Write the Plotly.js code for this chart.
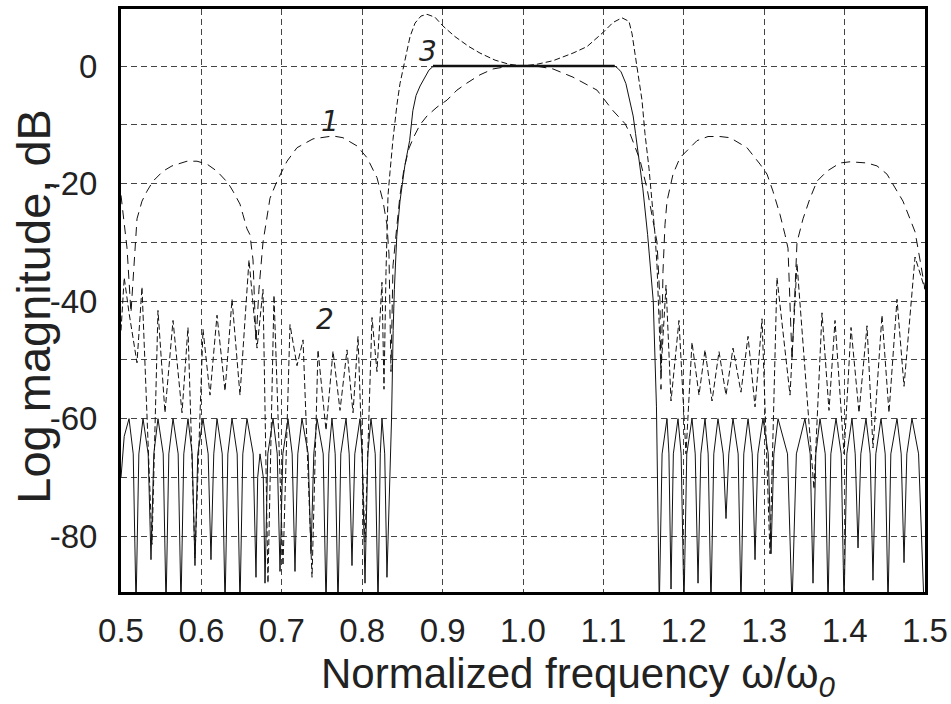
<!DOCTYPE html>
<html>
<head>
<meta charset="utf-8">
<script src="https://cdn.plot.ly/plotly-3.0.1.min.js"></script>
<style>
  html, body { margin: 0; padding: 0; background: #fff; }
  #chart { width: 951px; height: 704px; }
</style>
</head>
<body>
<div id="chart"></div>
<script>
// ---- Curve 3 (solid): shaped filter response ----
const curve3X = [
  0.5000, 0.5040, 0.5100, 0.5152, 0.5187, 0.5222, 0.5274, 0.5338, 0.5373, 0.5408,
  0.5460, 0.5525, 0.5560, 0.5595, 0.5647, 0.5711, 0.5746, 0.5781, 0.5833, 0.5885,
  0.5920, 0.5955, 0.6020, 0.6084, 0.6119, 0.6154, 0.6194, 0.6259, 0.6294, 0.6329,
  0.6381, 0.6445, 0.6480, 0.6515, 0.6567, 0.6644, 0.6679, 0.6700, 0.6729, 0.6770,
  0.6791, 0.6826, 0.6891, 0.6943, 0.6978, 0.7013, 0.7077, 0.7129, 0.7164, 0.7199,
  0.7251, 0.7328, 0.7363, 0.7398, 0.7438, 0.7515, 0.7550, 0.7585, 0.7624, 0.7664,
  0.7699, 0.7734, 0.7799, 0.7838, 0.7873, 0.7908, 0.7973, 0.8000, 0.8035, 0.8070,
  0.8109, 0.8162, 0.8197, 0.8225, 0.8246, 0.8280, 0.8308, 0.8335, 0.8365, 0.8385,
  0.8400, 0.8430, 0.8470, 0.8530, 0.8590, 0.8630, 0.8670, 0.8720, 0.8780, 0.8830,
  0.8880, 0.9000, 1.0000, 1.1000, 1.1140, 1.1180, 1.1220, 1.1280, 1.1320, 1.1370,
  1.1400, 1.1440, 1.1490, 1.1550, 1.1590, 1.1620, 1.1660, 1.1680, 1.1695, 1.1730,
  1.1791, 1.1815, 1.1841, 1.1870, 1.1928, 1.1967, 1.2002, 1.2037, 1.2102, 1.2142,
  1.2177, 1.2212, 1.2264, 1.2303, 1.2338, 1.2373, 1.2425, 1.2490, 1.2525, 1.2560,
  1.2612, 1.2676, 1.2711, 1.2746, 1.2799, 1.2851, 1.2886, 1.2921, 1.2985, 1.3050,
  1.3085, 1.3120, 1.3172, 1.3290, 1.3346, 1.3400, 1.3507, 1.3572, 1.3607, 1.3642,
  1.3694, 1.3759, 1.3794, 1.3829, 1.3893, 1.3958, 1.3993, 1.4028, 1.4092, 1.4132,
  1.4167, 1.4202, 1.4266, 1.4318, 1.4353, 1.4388, 1.4453, 1.4505, 1.4540, 1.4575,
  1.4652, 1.4704, 1.4739, 1.4774, 1.4838, 1.4920, 1.4988
];
const curve3Y = [
  -70, -63, -60, -66, -92, -66, -60, -66, -84, -66,
  -60, -66, -92, -66, -60, -66, -92, -66, -60, -66,
  -85, -66, -60, -66, -84, -66, -60, -66, -92, -66,
  -60, -66, -92, -66, -60, -66, -87, -70, -66, -70,
  -88, -66, -60, -66, -86, -66, -60, -66, -86, -66,
  -60, -66, -83, -66, -60, -66, -92, -66, -60, -66,
  -92, -66, -60, -66, -85, -66, -60, -66, -88, -66,
  -60, -66, -92, -66, -60, -66, -87, -75, -60, -45,
  -38, -29, -23, -17, -12.7, -7.6, -5, -3.4, -1.8, -0.7,
  -0.1, 0, 0.1, 0, 0, -0.4, -1, -3, -5.3, -8.5,
  -11.5, -16, -20.8, -28.7, -35, -40, -58, -80, -92, -66,
  -60, -66, -89, -66, -60, -66, -92, -66, -60, -66,
  -88, -66, -60, -66, -92, -66, -60, -66, -77, -66,
  -60, -66, -92, -66, -60, -66, -84, -66, -60, -66,
  -83, -66, -60, -66, -92, -66, -60, -66, -88, -66,
  -60, -66, -92, -66, -60, -66, -92, -66, -60, -66,
  -82, -66, -60, -66, -87.5, -66, -60, -66, -92, -66,
  -60, -66, -84.5, -66, -60, -66, -92
];
// passband of curve 3 (drawn bold in the original)
const passbandX = [0.888, 0.950, 1.000, 1.050, 1.114];
const passbandY = [0, 0, 0.1, 0, 0];

// ---- Curve 1 (long dashes): unshaped (sinc-like) response ----
const curve1X = [
  0.5000, 0.5025, 0.5075, 0.5124, 0.5174, 0.5199, 0.5261, 0.5323, 0.5398, 0.5522,
  0.5634, 0.5821, 0.5945, 0.6070, 0.6194, 0.6331, 0.6393, 0.6480, 0.6517, 0.6567,
  0.6604, 0.6642, 0.6679, 0.6716, 0.6766, 0.6816, 0.6853, 0.6940, 0.7065, 0.7189,
  0.7388, 0.7637, 0.7761, 0.7935, 0.8060, 0.8184, 0.8259, 0.8308, 0.8333, 0.8358,
  0.8383, 0.8433, 0.8470, 0.8520, 0.8582, 0.8644, 0.8719, 0.8806, 0.8930, 0.9055,
  0.9179, 0.9303, 0.9465, 0.9627, 0.9801, 1.0000, 1.0199, 1.0373, 1.0622, 1.0771,
  1.0920, 1.1119, 1.1269, 1.1331, 1.1455, 1.1542, 1.1617, 1.1667, 1.1704, 1.1716,
  1.1741, 1.1766, 1.1791, 1.1866, 1.1953, 1.2040, 1.2164, 1.2301, 1.2450, 1.2575,
  1.2786, 1.2948, 1.3035, 1.3109, 1.3197, 1.3259, 1.3296, 1.3346, 1.3408, 1.3483,
  1.3570, 1.3657, 1.3781, 1.3943, 1.4067, 1.4279, 1.4403, 1.4527, 1.4602, 1.4726,
  1.4813, 1.4876, 1.4938, 1.5000
];
const curve1Y = [
  -22, -24.7, -31, -42, -30, -26, -23, -21.3, -19.6, -17.9,
  -17, -16.2, -16.2, -16.7, -17.9, -19.9, -21.3, -23.5, -25.3, -27.7,
  -28.7, -33, -47, -38, -30, -26, -22.5, -19.6, -16.2, -13.9,
  -12.4, -11.9, -12.2, -13.6, -15.6, -19, -23, -27, -32, -52,
  -34, -27, -22, -17.5, -14, -12, -10, -8.5, -7, -5.8,
  -4.1, -2.9, -1.5, -0.5, -0.1, 0, -0.1, -0.5, -1.9, -3,
  -4.1, -7.6, -9.8, -11.5, -16, -20.8, -26, -30, -40, -55,
  -35, -27, -23, -18.4, -15.6, -14.4, -12.7, -12, -12, -12.2,
  -13.9, -16.7, -18.4, -21.3, -25.3, -28.7, -31, -50, -30, -26,
  -22.5, -19.6, -17.9, -16.5, -16.3, -16.5, -17, -18.4, -20.1, -23,
  -26, -28.2, -33, -38
];

// ---- Curve 2 (short dashes): overshooting response ----
const curve2X = [
  0.5000, 0.5040, 0.5100, 0.5199, 0.5261, 0.5386, 0.5460, 0.5547, 0.5647, 0.5759,
  0.5833, 0.5920, 0.6020, 0.6107, 0.6194, 0.6294, 0.6381, 0.6480, 0.6592, 0.6692,
  0.6766, 0.6828, 0.6903, 0.7015, 0.7102, 0.7189, 0.7264, 0.7376, 0.7450, 0.7550,
  0.7637, 0.7724, 0.7811, 0.7886, 0.7948, 0.8035, 0.8122, 0.8184, 0.8246, 0.8271,
  0.8296, 0.8321, 0.8346, 0.8383, 0.8433, 0.8470, 0.8532, 0.8595, 0.8657, 0.8731,
  0.8806, 0.8905, 0.9005, 0.9154, 0.9328, 0.9465, 0.9652, 0.9826, 1.0000, 1.0174,
  1.0373, 1.0622, 1.0796, 1.0995, 1.1119, 1.1231, 1.1318, 1.1356, 1.1418, 1.1480,
  1.1517, 1.1567, 1.1604, 1.1642, 1.1667, 1.1716, 1.1779, 1.1841, 1.1940, 1.2027,
  1.2102, 1.2189, 1.2264, 1.2351, 1.2438, 1.2525, 1.2612, 1.2711, 1.2799, 1.2886,
  1.2973, 1.3072, 1.3159, 1.3321, 1.3408, 1.3619, 1.3719, 1.3806, 1.3881, 1.3993,
  1.4080, 1.4179, 1.4279, 1.4353, 1.4465, 1.4552, 1.4652, 1.4739, 1.4876, 1.5000
];
const curve2Y = [
  -45, -36, -42, -50.5, -37.6, -81.4, -41.6, -59, -43.3, -59,
  -44.5, -83.7, -44.8, -56, -42.4, -55.3, -39.7, -56, -33, -48,
  -38, -88, -39, -85, -44, -51, -46.6, -87, -48.3, -62,
  -48.5, -58.6, -48.3, -59, -46, -81, -42.8, -52, -36.8, -55,
  -35, -22, -18, -12.5, -6.5, -3, 1, 5, 7.3, 8.5,
  8.8, 8.3, 6.8, 5, 3.3, 2.2, 1, 0.3, 0, 0.3,
  0.9, 2.2, 3.3, 5.7, 7.4, 8.2, 7.6, 5.5, -0.2, -5.8,
  -11.5, -17.4, -23, -28.7, -34, -52, -37.3, -57, -43.3, -66,
  -47, -56, -48.3, -57, -48.6, -56, -48, -55.5, -46, -58,
  -43, -83, -36, -56, -33.6, -72, -42, -58.6, -43.3, -66,
  -44.5, -59, -44.2, -65, -42.4, -59, -39.7, -54.5, -32.5, -38
];

// ---- axis ticks and curve labels ----
const xTickVals = [0.5, 0.6, 0.7, 0.8, 0.9, 1.0, 1.1, 1.2, 1.3, 1.4, 1.5];
const xTickText = ['0.5', '0.6', '0.7', '0.8', '0.9', '1.0', '1.1', '1.2', '1.3', '1.4', '1.5'];
const yTickVals = [-80, -60, -40, -20, 0];
const yTickText = ['-80', '-60', '-40', '-20', '0'];
const yMinorVals = [-90, -70, -50, -30, -10];
const labelText = ['1', '2', '3'];
const labelX = [0.760, 0.754, 0.882];
const labelY = [-9.5, -43.2, 2.4];

const traces = [
  { x: curve1X, y: curve1Y, mode: 'lines', line: { color: '#111', width: 1, dash: '9px,6px' }, hoverinfo: 'skip' },
  { x: curve2X, y: curve2Y, mode: 'lines', line: { color: '#111', width: 1, dash: '6px,3px' }, hoverinfo: 'skip' },
  { x: curve3X, y: curve3Y, mode: 'lines', line: { color: '#111', width: 1 }, hoverinfo: 'skip' },
  { x: passbandX, y: passbandY, mode: 'lines', line: { color: '#111', width: 2.5 }, hoverinfo: 'skip' }
];

const tickFont = { family: 'Liberation Sans, Arial, sans-serif', size: 33, color: '#222' };
const gridStyle = { gridcolor: '#444', gridwidth: 1, griddash: '6px,4px' };

const annotations = labelText.map((t, i) => ({
  x: labelX[i], y: labelY[i], xref: 'x', yref: 'y', text: '<i>' + t + '</i>',
  showarrow: false, font: { family: 'DejaVu Sans, sans-serif', size: 28, color: '#222' }
}));
annotations.push({
  x: 0.568, y: -0.145, xref: 'paper', yref: 'paper', xanchor: 'center', yanchor: 'middle',
  text: 'Normalized frequency \u03c9/\u03c9<sub><i>0</i></sub>', showarrow: false,
  font: { family: 'Liberation Sans, Arial, sans-serif', size: 42, color: '#222' }
});
annotations.push({
  x: -0.109, y: 0.49, xref: 'paper', yref: 'paper', xanchor: 'center', yanchor: 'middle',
  text: 'Log magnitude, dB', textangle: -90, showarrow: false,
  font: { family: 'Liberation Sans, Arial, sans-serif', size: 47, color: '#222' }
});

const layout = {
  width: 951, height: 704,
  margin: { l: 121, r: 26, t: 9, b: 112 },
  paper_bgcolor: '#fff', plot_bgcolor: '#fff',
  showlegend: false,
  xaxis: Object.assign({
    range: [0.5, 1.5], tickvals: xTickVals, ticktext: xTickText,
    showgrid: true,
    zeroline: false, showline: true, linecolor: '#000', linewidth: 3, mirror: true,
    ticks: '', ticklabelstandoff: 7, ticklabeloverflow: 'allow', tickfont: tickFont
  }, gridStyle),
  yaxis: Object.assign({
    range: [-89.5, 9.7], tickvals: yTickVals, ticktext: yTickText,
    showgrid: true,
    minor: Object.assign({ tickvals: yMinorVals, showgrid: true, ticks: '' }, gridStyle),
    zeroline: false, showline: true, linecolor: '#000', linewidth: 3, mirror: true,
    ticks: '', ticklabelstandoff: 14, ticklabeloverflow: 'allow', tickfont: tickFont
  }, gridStyle),
  annotations: annotations
};

Plotly.newPlot('chart', traces, layout, { displayModeBar: false, staticPlot: true });
</script>
</body>
</html>
